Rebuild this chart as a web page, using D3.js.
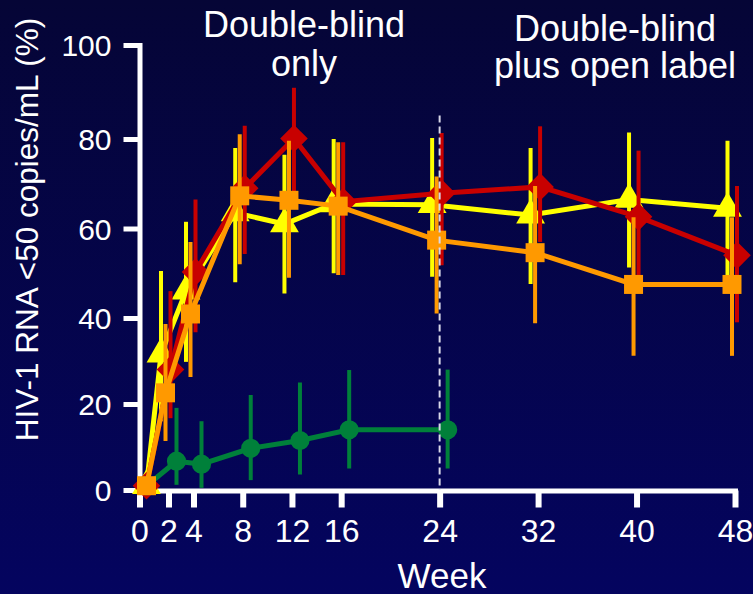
<!DOCTYPE html>
<html>
<head>
<meta charset="utf-8">
<script src="https://cdn.jsdelivr.net/npm/d3@7"></script>
<style>
  html, body { margin: 0; padding: 0; background: #04044a; }
  svg { display: block; }
  text { font-family: "Liberation Sans", Arial, Helvetica, sans-serif; fill: #ffffff; }
</style>
</head>
<body>
<svg id="chart" width="753" height="594"></svg>
<script>
// ---------- data ----------
const weeks = [0, 2, 4, 8, 12, 16, 24, 32, 40, 48];
const greenWeeks = [0, 2, 4, 8, 12, 16, 24];
const xTickLabels = [0, 2, 4, 8, 12, 16, 24, 32, 40, 48];
const yTickLabels = [0, 20, 40, 60, 80, 100];

const yellowValues = [1, 31.6, 46, 63.5, 61, 65.5, 65.3, 63, 66.5, 64.5];
const yellowLow    = [null, 16, 29.8, 48, 45.5, 50, 49.2, 47.6, 51.3, 49.6];
const yellowHigh   = [null, 50.5, 61.5, 78, 76.5, 80, 80.2, 78, 81.4, 79.6];

const redValues = [1, 28, 50.3, 69, 80.1, 66, 67.9, 69.3, 62.6, 54];
const redLow    = [null, 16.7, 36.7, 54.3, 68, 49.6, 51.8, 57, 49.6, 39];
const redHigh   = [null, 46, 66.5, 82.8, 90.9, 79.3, 81.3, 82.7, 77.4, 69.5];

const orangeValues = [1, 22.6, 40.9, 67.3, 66.3, 65, 57.4, 54.6, 47.5, 47.5];
const orangeLow    = [null, 11.4, 26.3, 52, 49, 49.6, 41, 38.8, 31.2, 31.2];
const orangeHigh   = [null, 38.6, 57, 81, 79.6, 79.3, 71.6, 69.5, 62.5, 62.5];

const greenValues = [1, 6.7, 6, 9.7, 11.5, 14, 14];
const greenLow    = [null, 1.2, 0.5, 2.3, 3.6, 5, 5];
const greenHigh   = [null, 19.1, 16, 22.1, 25, 27.9, 28];

const dividerWeek = 24;
const dividerTop = 85;

// ---------- setup ----------
const svg = d3.select("#chart");

const defs = svg.append("defs");
const grad = defs.append("linearGradient").attr("id", "bg")
  .attr("x1", 0).attr("y1", 0).attr("x2", 0).attr("y2", 1);
grad.append("stop").attr("offset", "0%").attr("stop-color", "#050536");
grad.append("stop").attr("offset", "100%").attr("stop-color", "#04045f");
svg.append("rect").attr("width", 753).attr("height", 594).attr("fill", "url(#bg)");

const x = d3.scaleLinear().domain([0, 2, 4, 48]).range([139.5, 168.5, 193.5, 735]);
const y = d3.scaleLinear().domain([0, 40, 80, 100]).range([490, 318, 139, 45]);

// ---------- axes ----------
const yAxis = svg.append("g").attr("transform", "translate(139.5,0)")
  .call(d3.axisLeft(y).tickValues(yTickLabels).tickSize(16).tickSizeOuter(0).tickPadding(12));
yAxis.select(".domain").attr("stroke", "#fff").attr("stroke-width", 5).attr("stroke-linecap", "square");
yAxis.selectAll(".tick line").attr("stroke", "#fff").attr("stroke-width", 5);
yAxis.selectAll(".tick text").attr("fill", "#fff").attr("font-size", 30)
  .attr("font-family", "'Liberation Sans', Arial, sans-serif").attr("dy", "0.35em");

const xAxis = svg.append("g").attr("transform", "translate(0,490.5)")
  .call(d3.axisBottom(x).tickValues(xTickLabels).tickSize(17).tickSizeOuter(0).tickPadding(12));
xAxis.select(".domain").attr("stroke", "#fff").attr("stroke-width", 5).attr("stroke-linecap", "square");
xAxis.selectAll(".tick line").attr("stroke", "#fff").attr("stroke-width", 6);
xAxis.selectAll(".tick text").attr("fill", "#fff").attr("font-size", 32)
  .attr("font-family", "'Liberation Sans', Arial, sans-serif");

// axis titles
svg.append("text").attr("x", 442).attr("y", 588).attr("text-anchor", "middle")
  .attr("font-size", 35).text("Week");
svg.append("text").attr("transform", "translate(38,229.5) rotate(-90)")
  .attr("text-anchor", "middle").attr("font-size", 31.5)
  .text("HIV-1 RNA <50 copies/mL (%)");

// phase titles
svg.append("text").attr("x", 304).attr("y", 37).attr("text-anchor", "middle")
  .attr("font-size", 36).text("Double-blind");
svg.append("text").attr("x", 304).attr("y", 76).attr("text-anchor", "middle")
  .attr("font-size", 36).text("only");
svg.append("text").attr("x", 615).attr("y", 41).attr("text-anchor", "middle")
  .attr("font-size", 36).text("Double-blind");
svg.append("text").attr("x", 615).attr("y", 78).attr("text-anchor", "middle")
  .attr("font-size", 36).text("plus open label");

// ---------- series (drawn in this order) ----------
const series = [
  { weeks: weeks, values: yellowValues, low: yellowLow, high: yellowHigh, color: "#ffff00",
    symbol: d3.symbolTriangle, size: 360, rotate: 0, dx: -7.5 },
  { weeks: weeks, values: redValues, low: redLow, high: redHigh, color: "#c80000",
    symbol: d3.symbolSquare, size: 380, rotate: 45, dx: 2 },
  { weeks: greenWeeks, values: greenValues, low: greenLow, high: greenHigh, color: "#00803a",
    symbol: d3.symbolCircle, size: 290, rotate: 0, dx: 8 },
  { weeks: weeks, values: orangeValues, low: orangeLow, high: orangeHigh, color: "#ff9900",
    symbol: d3.symbolSquare, size: 361, rotate: 0, dx: -3 }
];

const zeroDx = 7;
function px(s, i) { return x(s.weeks[i]) + (s.weeks[i] === 0 ? zeroDx : s.dx); }

series.forEach(s => {
  const g = svg.append("g");
  const pts = s.values.map((v, i) => ({ i, v, lo: s.low[i], hi: s.high[i] }));
  // error bars
  g.selectAll("line.err").data(pts.filter(p => p.lo != null)).join("line")
    .attr("x1", p => px(s, p.i)).attr("x2", p => px(s, p.i))
    .attr("y1", p => y(p.lo)).attr("y2", p => y(p.hi))
    .attr("stroke", s.color).attr("stroke-width", 4);
  // line
  g.append("path").datum(pts)
    .attr("d", d3.line().x(p => px(s, p.i)).y(p => y(p.v)))
    .attr("fill", "none").attr("stroke", s.color).attr("stroke-width", 5)
    .attr("stroke-linejoin", "miter");
  // markers
  g.selectAll("path.mk").data(pts).join("path")
    .attr("d", d3.symbol(s.symbol, s.size))
    .attr("transform", p => `translate(${px(s, p.i)},${y(p.v)}) rotate(${s.rotate})`)
    .attr("fill", s.color);
});

// divider
svg.append("line")
  .attr("x1", x(dividerWeek)).attr("x2", x(dividerWeek))
  .attr("y1", y(dividerTop)).attr("y2", y(0))
  .attr("stroke", "#d8d8e8").attr("stroke-width", 2).attr("stroke-dasharray", "7,4");
</script>
</body>
</html>
